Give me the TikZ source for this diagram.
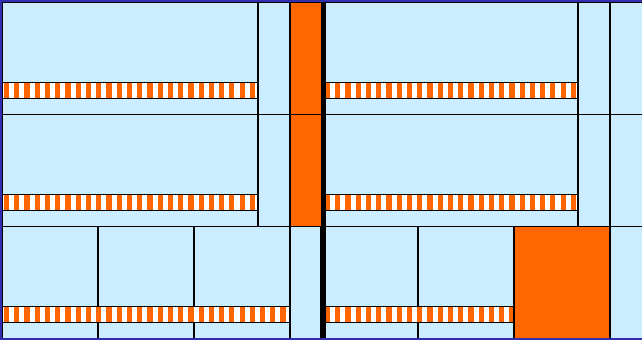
\documentclass[tikz,border=0pt]{standalone}
\usepackage{xcolor}
\usepackage{tikz}
\definecolor{roomblue}{RGB}{204,236,255}
\definecolor{wallorange}{RGB}{255,102,0}
\definecolor{edgeblue}{RGB}{51,45,175}

% striped bar: #1 = left x, #2 = right x, #3 = top y
\newcommand{\stripebar}[3]{%
  \begin{scope}
    \clip (#1,#3) rectangle (#2,#3+16);
    \fill[white] (#1,#3) rectangle (#2,#3+16);
    \foreach \s in {0,...,30}
      \fill[wallorange] ({#1+2+\s*10.24},#3) rectangle ++(5.2,16);
  \end{scope}
  \draw[wall] (#1,#3) rectangle (#2,#3+16);}

\begin{document}
\begin{tikzpicture}[x=1pt,y=-1pt,
    wall/.style={draw=black,line width=1.9pt},
    cell/.style={wall,fill=roomblue},
    block/.style={wall,fill=wallorange}]
    \useasboundingbox (0,0) rectangle (642,340);
    \clip (0,0) rectangle (642,340);
    % upper two rows
    \foreach \y in {2.5,114.5} {
        \draw[cell] (2,\y) rectangle (258,\y+112);
        \draw[cell] (258,\y) rectangle (290,\y+112);
        \draw[block] (290,\y) rectangle (322,\y+112);
        \draw[cell] (324,\y) rectangle (578,\y+112);
        \draw[cell] (578,\y) rectangle (610,\y+112);
        \draw[cell] (610,\y) rectangle (660,\y+112);
        \stripebar{2}{258}{\y+80}
        \stripebar{323}{578}{\y+80}
    }
    % bottom row
    \foreach \xa/\xb in {2/98,98/194,194/290,290/321,324/418,418/514,610/660}
        \draw[cell] (\xa,226.5) rectangle (\xb,338.5);
    \draw[block] (514,226.5) rectangle (610,338.5);
    \stripebar{2}{290}{306.5}
    \stripebar{323}{514}{306.5}
    % middle wall
    \draw[line width=4pt] (323.5,0) -- (323.5,340);
    % outer edge
    \draw[edgeblue,line width=2pt] (1,1) rectangle (660,339);
\end{tikzpicture}
\end{document}
